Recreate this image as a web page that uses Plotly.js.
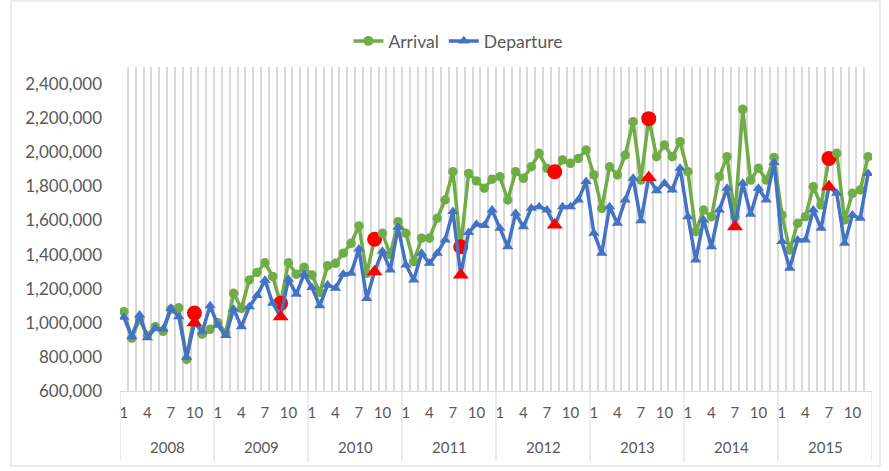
<!DOCTYPE html>
<html>
<head>
<meta charset="utf-8">
<script src="https://cdn.plot.ly/plotly-3.0.1.min.js"></script>
<style>
  html, body { margin: 0; padding: 0; background: #ffffff; }
  #chart { width: 889px; height: 471px; }
</style>
</head>
<body>
<div id="chart"></div>
<script>
// ---- data ----
const years = [2008, 2009, 2010, 2011, 2012, 2013, 2014, 2015];
const months = [1, 2, 3, 4, 5, 6, 7, 8, 9, 10, 11, 12];
const labelledMonths = [1, 4, 7, 10];

const arrival2008 = [1065000, 910000, 1020000, 925000, 977000, 950000, 1080000, 1088000, 785000, 1057000, 933000, 962000];
const arrival2009 = [1000000, 940000, 1173000, 1085000, 1251000, 1295000, 1352000, 1272000, 1114000, 1352000, 1285000, 1325000];
const arrival2010 = [1280000, 1178000, 1335000, 1349000, 1408000, 1466000, 1568000, 1290000, 1490000, 1525000, 1400000, 1593000];
const arrival2011 = [1525000, 1358000, 1496000, 1496000, 1613000, 1720000, 1886000, 1446000, 1876000, 1832000, 1789000, 1842000];
const arrival2012 = [1857000, 1720000, 1886000, 1847000, 1915000, 1994000, 1906000, 1886000, 1955000, 1935000, 1964000, 2013000];
const arrival2013 = [1867000, 1671000, 1915000, 1867000, 1984000, 2179000, 1837000, 2197000, 1974000, 2043000, 1974000, 2062000];
const arrival2014 = [1886000, 1534000, 1661000, 1622000, 1857000, 1974000, 1622000, 2252000, 1837000, 1906000, 1837000, 1969000];
const arrival2015 = [1632000, 1427000, 1583000, 1622000, 1798000, 1691000, 1964000, 1994000, 1603000, 1759000, 1779000, 1974000];

const departure2008 = [1032000, 918000, 1046000, 912000, 968000, 963000, 1085000, 1036000, 798000, 1000000, 948000, 1100000];
const departure2009 = [985000, 925000, 1080000, 977000, 1094000, 1160000, 1250000, 1114000, 1036000, 1255000, 1168000, 1285000];
const departure2010 = [1207000, 1100000, 1222000, 1202000, 1285000, 1290000, 1432000, 1143000, 1300000, 1420000, 1310000, 1560000];
const departure2011 = [1339000, 1251000, 1408000, 1349000, 1408000, 1486000, 1652000, 1280000, 1530000, 1578000, 1570000, 1661000];
const departure2012 = [1554000, 1446000, 1642000, 1563000, 1671000, 1681000, 1661000, 1573000, 1681000, 1681000, 1720000, 1828000];
const departure2013 = [1525000, 1408000, 1681000, 1583000, 1720000, 1847000, 1598000, 1852000, 1774000, 1818000, 1779000, 1906000];
const departure2014 = [1622000, 1368000, 1603000, 1446000, 1661000, 1789000, 1563000, 1818000, 1637000, 1789000, 1720000, 1940000];
const departure2015 = [1476000, 1320000, 1486000, 1486000, 1661000, 1554000, 1798000, 1759000, 1466000, 1632000, 1613000, 1876000];

// month highlighted in red in each year (null = not highlighted)
const highlightArrivalMonth   = [10, 9, 9, 8, 8, 8, null, 7];
const highlightDepartureMonth = [10, 9, 9, 8, 8, 8, 7, 7];

// ---- styling ----
const GREEN = '#70AD47', BLUE = '#4472C4', RED = '#FF0000';
const GRID = '#D9D9D9', TEXT = '#595959';
const FONT = 'Lato, "Open Sans", sans-serif';

const arrivalByYear = [arrival2008, arrival2009, arrival2010, arrival2011, arrival2012, arrival2013, arrival2014, arrival2015];
const departureByYear = [departure2008, departure2009, departure2010, departure2011, departure2012, departure2013, departure2014, departure2015];

const xs = [], arr = [], dep = [];
const arrCol = [], arrSize = [], depCol = [], depSize = [];
const tickvals = [], ticktext = [];
years.forEach((yr, yi) => {
  months.forEach((m, mi) => {
    const idx = yi * months.length + mi;
    xs.push(idx);
    arr.push(arrivalByYear[yi][mi]);
    dep.push(departureByYear[yi][mi]);
    const ha = highlightArrivalMonth[yi] === m;
    const hd = highlightDepartureMonth[yi] === m;
    arrCol.push(ha ? RED : GREEN); arrSize.push(ha ? 15 : 9.5);
    depCol.push(hd ? RED : BLUE); depSize.push(hd ? 14 : 10);
    if (labelledMonths.includes(m)) {
      tickvals.push(idx);
      ticktext.push(String(m));
    }
  });
});
const nCat = xs.length;

const traces = [
  {
    type: 'scatter', mode: 'lines+markers', name: 'Arrival',
    x: xs, y: arr,
    line: { color: GREEN, width: 3.5 },
    marker: { symbol: 'circle', color: arrCol, size: arrSize, opacity: 1, line: { width: 0 } }
  },
  {
    type: 'scatter', mode: 'lines+markers', name: 'Departure',
    x: xs, y: dep,
    line: { color: BLUE, width: 3.5 },
    marker: { symbol: 'triangle-up', color: depCol, size: depSize, opacity: 1, line: { width: 0 } }
  }
];

const PLOT_TOP = 67, PLOT_BOTTOM = 391, PLOT_H = PLOT_BOTTOM - PLOT_TOP;
const annotations = years.map((yr, yi) => ({
  x: yi * 12 + 5.5, xref: 'x', y: -(447 - PLOT_BOTTOM) / PLOT_H, yref: 'paper',
  text: String(yr), showarrow: false,
  font: { family: FONT, size: 15, color: TEXT },
  xanchor: 'center', yanchor: 'middle'
}));

const shapes = [];
for (let k = 0; k <= years.length; k++) {
  shapes.push({
    type: 'line', xref: 'x', yref: 'paper',
    x0: k * 12 - 0.5, x1: k * 12 - 0.5, y0: 0, y1: -(462 - PLOT_BOTTOM) / PLOT_H,
    line: { color: GRID, width: 1 }
  });
}
// chart-area border
shapes.push({
  type: 'rect', xref: 'paper', yref: 'paper',
  x0: (11 - 120) / 752, x1: (880 - 120) / 752,
  y0: (PLOT_BOTTOM - 466) / PLOT_H, y1: (PLOT_BOTTOM - 1) / PLOT_H,
  line: { color: GRID, width: 1 }, fillcolor: 'rgba(0,0,0,0)', layer: 'below'
});

const layout = {
  width: 889, height: 471,
  margin: { l: 120, r: 17, t: PLOT_TOP, b: 471 - PLOT_BOTTOM },
  paper_bgcolor: '#ffffff', plot_bgcolor: '#ffffff',
  font: { family: FONT, color: TEXT, size: 15 },
  showlegend: true,
  legend: {
    orientation: 'h', x: 0.45, xanchor: 'center', y: 1 + (PLOT_TOP - 41) / PLOT_H, yanchor: 'middle',
    font: { family: FONT, size: 17.5, color: TEXT }, bgcolor: 'rgba(0,0,0,0)'
  },
  xaxis: {
    type: 'linear', range: [-0.5, nCat - 0.5],
    tickmode: 'array', tickvals: tickvals, ticktext: ticktext,
    showgrid: false,
    minor: { tickmode: 'linear', tick0: -0.5, dtick: 1, showgrid: true, gridcolor: GRID, gridwidth: 2, ticks: '' },
    zeroline: false, showline: true, linecolor: GRID, linewidth: 1,
    ticks: '', ticklabelstandoff: 8, tickfont: { family: FONT, size: 15, color: TEXT },
    fixedrange: true
  },
  yaxis: {
    range: [600000, 2500000], tickmode: 'array',
    tickvals: [600000, 800000, 1000000, 1200000, 1400000, 1600000, 1800000, 2000000, 2200000, 2400000],
    tickformat: ',d',
    showgrid: false, zeroline: false, showline: false,
    ticks: '', ticklabelstandoff: 17,
    tickfont: { family: FONT, size: 17, color: TEXT },
    fixedrange: true
  },
  annotations: annotations,
  shapes: shapes
};

Plotly.newPlot('chart', traces, layout, { displayModeBar: false, staticPlot: true });
</script>
</body>
</html>
